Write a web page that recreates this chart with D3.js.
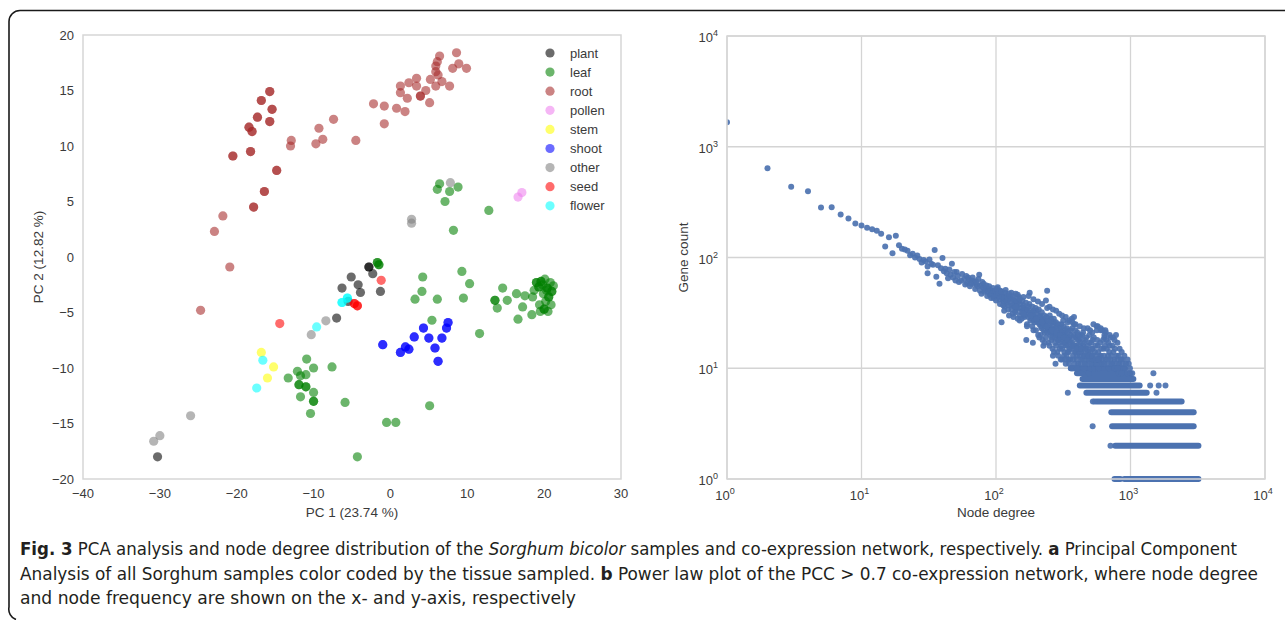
<!DOCTYPE html>
<html lang="en">
<head>
  <meta charset="UTF-8">
  <title>Fig. 3 PCA and node degree</title>
  <script src="https://d3js.org/d3.v7.min.js"></script>
  <style>
    body { margin: 0; background: #fff; }
    svg { display: block; }
    .tick-label { font-family: "Liberation Sans", Arial, sans-serif; font-size: 13px; fill: #3a3a3a; }
    .axis-title { font-family: "Liberation Sans", Arial, sans-serif; font-size: 13.5px; fill: #3a3a3a; }
    .legend-label { font-family: "Liberation Sans", Arial, sans-serif; font-size: 13px; fill: #3a3a3a; }
    .caption { font-family: "Liberation Sans Narrow", "DejaVu Sans Condensed", "Arial Narrow", "Liberation Sans", sans-serif; font-size: 17px; fill: #231f20; }
  </style>
</head>
<body>
<svg width="1285" height="620"></svg>
<script>
  // ---- panel a: PCA, points as [PC1, PC2, overlapping samples] ----
  const tissues = ["plant", "leaf", "root", "pollen", "stem", "shoot", "other", "seed", "flower"];
  const tissueColors = ["black", "green", "brown", "violet", "yellow", "blue", "grey", "red", "cyan"];

  const plantPts = [[-2.8, -0.9, 2], [-2.3, -1.5], [-5.1, -1.8], [-6.3, -2.8], [-4.2, -2.5],
    [-3.9, -3.2], [-1.3, -3.1], [-7.0, -5.5], [-5.5, -4.0], [-30.3, -18.0]];
  const leafPts = [[6.4, 6.6], [6.1, 6.1], [7.7, 5.9], [8.8, 6.3], [7.1, 5.0], [12.8, 4.2], [8.2, 2.4],
    [-1.7, -0.5, 2], [-1.5, -0.7, 2],
    [4.2, -1.8], [9.3, -1.3], [10.3, -2.4], [4.1, -3.1], [3.2, -3.8], [6.1, -3.8], [9.5, -3.7],
    [14.6, -2.8], [13.6, -3.9, 2], [13.9, -4.6], [15.2, -3.9], [16.4, -3.3], [17.5, -3.5], [17.2, -4.5],
    [16.6, -5.6], [18.4, -5.2],
    [19.0, -2.3, 2], [19.6, -2.2, 2], [20.1, -2.0], [20.8, -2.3], [21.2, -2.6], [19.3, -2.7, 2], [20.4, -2.8, 2],
    [21.0, -3.1, 2], [19.9, -3.3], [20.6, -3.6, 2], [20.2, -4.0], [19.4, -4.3], [20.0, -4.7, 2], [20.5, -4.9],
    [20.9, -4.3], [18.7, -3.0], [20.3, -3.0], [19.8, -2.5], [18.5, -3.6], [19.5, -4.9],
    [5.4, -5.7], [11.6, -6.9], [5.1, -13.4], [-0.5, -14.9], [0.7, -14.9], [-4.3, -18.0], [-5.9, -13.1],
    [-7.6, -9.9], [-10.9, -9.2], [-10.0, -10.0], [-12.1, -10.3], [-11.7, -10.7], [-11.0, -10.6],
    [-13.3, -10.9], [-11.9, -11.5, 2], [-11.0, -11.7, 2], [-10.0, -12.2], [-11.7, -12.6], [-10.0, -13.0, 2],
    [-10.4, -14.1]];
  const rootPts = [[8.6, 18.4], [6.4, 18.1], [6.1, 17.6], [8.9, 17.4], [9.9, 17.0], [8.1, 17.0], [5.9, 17.2],
    [5.9, 16.7], [6.2, 16.4], [6.7, 15.8], [5.2, 16.0], [5.9, 15.4], [7.7, 15.4], [3.4, 16.1], [2.4, 15.7],
    [3.4, 15.4], [1.3, 15.4], [1.3, 14.8], [4.6, 15.0], [2.2, 14.3], [3.9, 14.5, 2], [5.1, 13.9],
    [0.8, 13.4], [1.9, 13.1], [-2.2, 13.8], [-0.8, 13.6], [-0.8, 12.0], [-4.5, 10.5], [-7.4, 12.4],
    [-9.3, 11.6], [-8.8, 10.6], [-9.7, 10.2], [-12.9, 10.5], [-13.0, 10.0],
    [-15.7, 14.9, 2], [-16.8, 14.1, 2], [-15.4, 13.3, 2], [-17.3, 12.6, 2], [-15.7, 12.2, 2], [-18.4, 11.7, 2],
    [-18.0, 11.3, 2], [-18.2, 9.5, 2], [-20.5, 9.1, 2], [-14.8, 7.8, 2], [-16.4, 5.9, 2], [-17.8, 4.5, 2],
    [-21.8, 3.7], [-22.9, 2.3], [-20.9, -0.9], [-24.7, -4.8]];
  const pollenPts = [[16.6, 5.4], [17.1, 5.8]];
  const stemPts = [[-16.8, -8.6], [-15.2, -9.9], [-16.0, -10.9]];
  const shootPts = [[-1.0, -7.9, 2], [1.3, -8.6, 2], [1.95, -8.1, 2], [2.4, -8.3, 2], [3.1, -7.2, 2],
    [4.3, -6.4, 2], [5.0, -7.3, 2], [5.8, -8.2, 2], [6.2, -9.4, 2], [6.7, -7.3, 2], [7.3, -6.4, 2], [7.5, -5.9, 2]];
  const otherPts = [[7.8, 6.7], [2.75, 3.4], [2.75, 3.05], [-8.4, -5.75], [-10.3, -7.0], [-26.0, -14.3],
    [-30.0, -16.1], [-30.8, -16.6]];
  const seedPts = [[-1.2, -2.1], [-4.3, -4.4, 2], [-4.7, -4.2, 2], [-14.4, -6.0]];
  const flowerPts = [[-5.6, -3.7, 2], [-6.3, -4.1, 2], [-9.6, -6.3], [-16.6, -9.3], [-17.4, -11.8]];

  const pcXTicks = [-40, -30, -20, -10, 0, 10, 20, 30];
  const pcYTicks = [-20, -15, -10, -5, 0, 5, 10, 15, 20];

  // ---- panel b: power law, [degree] / [gene count] ----
  const degree = [1, 2, 3, 4, 5, 6, 7, 8, 9, 10, 11, 12, 13, 14, 15, 16, 17, 18, 19, 20, 21, 22, 23, 24, 25, 26, 27,
    28, 29, 30, 31, 31, 32, 33, 34, 35, 36, 37, 38, 39, 40, 41, 42, 43, 44, 45, 46, 47, 48, 49, 50, 51, 52, 53,
    55, 56, 58, 59, 61, 62, 64, 66, 68, 69, 70, 72, 73, 75, 76, 78, 80, 82, 84, 86, 88, 90, 92, 94, 96, 98,
    100, 103, 105, 107, 109, 110, 112, 114, 116, 118, 120, 123, 125, 128, 130, 133, 136, 138, 140, 143, 147,
    150, 152, 155, 158, 160, 163, 165, 168, 168, 170, 172, 175, 178, 180, 183, 186, 188, 190, 193, 195, 198,
    200, 203, 206, 210, 213, 215, 218, 220, 222, 225, 228, 230, 232, 235, 238, 240, 240, 243, 246, 250, 253,
    256, 258, 260, 263, 265, 268, 270, 273, 277, 277, 280, 283, 286, 290, 293, 296, 300, 303, 306, 310, 313,
    316, 320, 323, 326, 330, 333, 336, 340, 342, 342, 345, 350, 354, 358, 362, 366, 370, 374, 378, 380, 380,
    384, 388, 392, 394, 398, 402, 406, 410, 414, 418, 424, 424, 430, 436, 440, 446, 450, 455, 460, 466, 472,
    478, 480, 484, 490, 496, 502, 510, 516, 520, 523, 523, 530, 538, 545, 553, 560, 563, 563, 570, 580, 590,
    600, 602, 610, 620, 630, 640, 640, 650, 660, 666, 680, 690, 700, 715, 730, 745, 760, 775, 790, 810, 826,
    845, 870, 890, 914, 940, 970, 1000, 1030, 1480, 342, 523, 1560, 1400, 1620, 1820, 710, 525, 540,
    60, 63, 65, 67, 71, 74, 77, 79, 81, 83, 85, 87, 89, 91, 93, 95, 97, 99, 101, 104, 106, 108, 111, 113, 115,
    117, 119, 121, 124, 126, 129, 131, 134, 137, 139, 142, 145, 148, 151, 154, 157, 161, 164, 167, 171, 174,
    177, 181, 184, 187, 191, 194, 197, 201, 205, 208, 212, 216, 219, 223, 226, 229, 233, 237, 241, 244, 248,
    251, 255, 259, 262, 266, 269, 272, 275, 279, 282, 285, 288, 292, 295, 298, 302, 305, 308, 312, 315, 318,
    322, 325, 328, 332, 335, 338, 341, 344, 348, 352, 356, 360, 364, 368, 372, 376, 382, 386, 390, 396, 400,
    404, 408, 412, 416, 420, 426, 432, 438, 444, 448, 452, 458, 464, 470, 476, 482, 488, 494, 500, 506, 512,
    518, 526, 534, 542, 550, 558, 566, 575, 585, 595, 605, 615, 625, 635, 645, 655, 670, 685, 695, 710, 720,
    735, 750, 765, 780, 795, 800, 815, 830, 850, 860, 880, 900, 925, 950, 990,
    130, 145, 160, 175, 190, 205, 220, 235, 250, 265, 280, 295, 310, 330, 350, 370, 390, 420, 450, 500, 530,
    570, 600, 650, 700, 740, 760,
    150, 170, 190, 210, 230, 250, 270, 290, 310, 330, 350, 370, 400,
    140, 160, 180, 200, 220, 240, 260, 280, 300, 320, 340, 360, 380, 400, 430, 460, 490, 520, 550, 580, 610,
    640, 680, 720, 760, 800, 820, 860,
    102, 110, 118, 125, 135, 140, 150, 115, 125, 135, 145];
  const geneCount = [1660, 638, 436, 397, 283, 285, 245, 225, 203, 195, 186, 180, 174, 164, 126, 152, 109, 157,
    129, 120, 118, 115, 105, 108, 100, 104, 97, 90, 95, 92, 83, 72, 96, 88, 86, 117, 67, 85, 58, 80, 99, 75, 79,
    72, 65, 78, 70, 88, 66, 74, 62, 74, 68, 60, 62, 71, 64, 57, 59, 66, 55, 62, 58, 60, 52, 57, 55, 70, 50, 47,
    54, 49, 51, 45, 52, 46, 43, 50, 43, 47, 41, 54, 44, 38, 47, 26, 42, 40, 36, 45, 39, 34, 42, 43, 37, 31, 36,
    40, 33, 38, 40, 30, 35, 28, 33, 37, 29, 34, 33, 18, 25, 31, 36, 48, 27, 32, 24, 17, 30, 26, 29, 22, 33, 27,
    20, 25, 30, 20, 23, 28, 18, 16, 26, 21, 24, 19, 27, 50, 35, 22, 17, 25, 20, 28, 18, 23, 15, 13, 21, 26, 19,
    21, 11, 16, 24, 14, 20, 18, 17, 22, 12, 25, 15, 19, 27, 13, 17, 21, 11, 16, 23, 14, 18, 26, 12, 19, 15, 22,
    10, 28, 17, 13, 20, 25, 29, 11, 16, 14, 19, 12, 21, 10, 15, 18, 13, 11, 17, 14, 20, 12, 16, 10, 13, 18, 11,
    15, 12, 23, 14, 9, 17, 10, 13, 11, 21, 15, 18, 12, 10, 14, 11, 24, 22, 12, 16, 10, 13, 22, 13, 11, 22, 15,
    19, 20, 12, 18, 15, 13, 10, 16, 12, 11, 14, 12, 10, 13, 11, 11, 10, 12, 10, 10, 9, 11, 9, 9, 9, 6, 3, 6, 7,
    7, 7, 2, 5, 5,
    68, 63, 58, 66, 61, 64, 56, 60, 58, 53, 56, 49, 55, 50, 47, 53, 45, 50, 46, 48, 42, 50, 45, 37, 43,
    48, 41, 44, 37, 45, 40, 34, 42, 38, 32, 41, 35, 44, 38, 32, 41, 35, 30, 39, 34, 29,
    38, 32, 28, 36, 33, 27, 35, 31, 26, 34, 29, 24, 32, 27, 22, 30, 25, 29, 21, 27, 23,
    30, 21, 26, 19, 24, 28, 22, 17, 26, 20, 23, 18, 25, 21, 15, 19, 23, 16, 21, 18, 24,
    14, 20, 17, 22, 13, 19, 16, 21, 14, 18, 12, 20, 15, 23, 16, 12, 19, 14, 22, 16, 13,
    18, 11, 20, 14, 16, 19, 12, 15, 21, 13, 17, 11, 15, 19, 13, 16, 12, 20, 14, 11, 17,
    15, 12, 19, 13, 16, 11, 18, 14, 12, 17, 15, 12, 18, 13, 16, 21, 11, 17, 14, 19, 13,
    16, 11, 15, 20, 12, 17, 13, 15, 12, 14, 11, 13, 11, 12, 10,
    48, 46, 44, 45, 42, 40, 38, 41, 36, 34, 33, 31, 30, 29, 27, 26, 25, 24, 23, 22, 25,
    24, 23, 22, 20, 19, 18,
    27, 24, 22, 19, 17, 16, 14, 13, 12, 12, 11, 10, 10,
    36, 31, 30, 28, 26, 24, 22, 21, 20, 19, 18, 17, 16, 15, 15, 14, 13, 13, 12, 12, 11,
    11, 12, 11, 10, 10, 9, 9,
    52, 49, 51, 47, 45, 47, 42, 33, 30, 29, 28];
  // runs of neighbouring degrees sharing one small gene count
  const bandCount = [10, 9, 8, 7, 6, 5, 4, 3, 2, 1, 1];
  const bandFrom = [360, 400, 440, 420, 470, 560, 720, 730, 770, 760, 900];
  const bandTo = [900, 980, 1050, 1170, 1320, 2400, 2950, 2950, 3200, 840, 3200];
  const decadeTicks = [1, 10, 100, 1000, 10000];

  const svg = d3.select("svg");

  // outer figure frame (open on the right and bottom)
  svg.append("path")
    .attr("d", "M1285,10.5 H20 A11,11 0 0 0 9,21.5 V607 A11,11 0 0 0 16,619.5")
    .attr("fill", "none")
    .attr("stroke", "#1a1a1a")
    .attr("stroke-width", 1.6);

  // ---------- panel a ----------
  const x = d3.scaleLinear().domain([-40, 30]).range([83, 621]);
  const y = d3.scaleLinear().domain([-20, 20]).range([479, 35]);

  svg.append("rect")
    .attr("x", x(-40)).attr("y", y(20))
    .attr("width", x(30) - x(-40)).attr("height", y(-20) - y(20))
    .attr("fill", "none").attr("stroke", "#d6d6d6").attr("stroke-width", 1.5);

  const fmt = v => v < 0 ? "\u2212" + Math.abs(v) : String(v);

  svg.append("g").selectAll("text")
    .data(pcXTicks).enter().append("text")
    .attr("class", "tick-label")
    .attr("x", d => x(d)).attr("y", 498)
    .attr("text-anchor", "middle")
    .text(fmt);

  svg.append("g").selectAll("text")
    .data(pcYTicks).enter().append("text")
    .attr("class", "tick-label")
    .attr("x", 74).attr("y", d => y(d) + 4.5)
    .attr("text-anchor", "end")
    .text(fmt);

  svg.append("text").attr("class", "axis-title")
    .attr("x", (x(-40) + x(30)) / 2).attr("y", 517)
    .attr("text-anchor", "middle")
    .text("PC 1 (23.74 %)");

  svg.append("text").attr("class", "axis-title")
    .attr("transform", `translate(43,${(y(-20) + y(20)) / 2}) rotate(-90)`)
    .attr("text-anchor", "middle")
    .text("PC 2 (12.82 %)");

  const groups = [plantPts, leafPts, rootPts, pollenPts, stemPts, shootPts, otherPts, seedPts, flowerPts];
  groups.forEach((pts, i) => {
    // one circle per sample; overlapping samples darken the spot
    const samples = [];
    pts.forEach(p => { for (let k = 0; k < (p[2] || 1); k++) samples.push(p); });
    svg.append("g").selectAll("circle")
      .data(samples).enter().append("circle")
      .attr("cx", d => x(d[0]))
      .attr("cy", d => y(d[1]))
      .attr("r", 4.6)
      .attr("fill", tissueColors[i])
      .attr("fill-opacity", 0.58);
  });

  const legend = svg.append("g").attr("transform", "translate(550,53)");
  tissues.forEach((t, i) => {
    legend.append("circle")
      .attr("cx", 0).attr("cy", i * 19.1)
      .attr("r", 4.6)
      .attr("fill", tissueColors[i]).attr("fill-opacity", 0.58);
    legend.append("text").attr("class", "legend-label")
      .attr("x", 20).attr("y", i * 19.1 + 4.5)
      .text(t);
  });

  // ---------- panel b ----------
  const xd = d3.scaleLog().domain([1, 1e4]).range([727, 1265]);
  const yd = d3.scaleLog().domain([1, 1e4]).range([479, 36]);

  const grid = svg.append("g").attr("stroke", "#d4d4d4").attr("stroke-width", 1.3);
  grid.selectAll(".gx").data(decadeTicks).enter().append("line")
    .attr("x1", d => xd(d)).attr("x2", d => xd(d))
    .attr("y1", yd(1)).attr("y2", yd(1e4));
  grid.selectAll(".gy").data(decadeTicks).enter().append("line")
    .attr("x1", xd(1)).attr("x2", xd(1e4))
    .attr("y1", d => yd(d)).attr("y2", d => yd(d));

  const expLabel = (sel) => {
    sel.append("tspan").text("10");
    sel.append("tspan").attr("dy", -6).style("font-size", "9px").text(d => Math.round(Math.log10(d)));
  };

  svg.append("g").selectAll("text")
    .data(decadeTicks).enter().append("text")
    .attr("class", "tick-label")
    .attr("x", d => xd(d) - 2).attr("y", 500)
    .attr("text-anchor", "middle")
    .call(expLabel);

  svg.append("g").selectAll("text")
    .data(decadeTicks).enter().append("text")
    .attr("class", "tick-label")
    .attr("x", 718).attr("y", d => yd(d) + 6)
    .attr("text-anchor", "end")
    .call(expLabel);

  svg.append("text").attr("class", "axis-title")
    .attr("x", (xd(1) + xd(1e4)) / 2).attr("y", 517)
    .attr("text-anchor", "middle")
    .text("Node degree");

  svg.append("text").attr("class", "axis-title")
    .attr("transform", `translate(688,${(yd(1) + yd(1e4)) / 2}) rotate(-90)`)
    .attr("text-anchor", "middle")
    .text("Gene count");

  const dotColor = "#4c72b0";
  svg.append("clipPath").attr("id", "clipb").append("rect")
    .attr("x", xd(1)).attr("y", yd(1e4) - 5)
    .attr("width", xd(1e4) - xd(1)).attr("height", yd(1) - yd(1e4) + 10);

  const pb = svg.append("g").attr("clip-path", "url(#clipb)");
  pb.selectAll("line")
    .data(bandCount.map((c, i) => ({ c, a: bandFrom[i], b: bandTo[i] })))
    .enter().append("line")
    .attr("x1", d => xd(d.a)).attr("x2", d => xd(d.b))
    .attr("y1", d => yd(d.c)).attr("y2", d => yd(d.c))
    .attr("stroke", dotColor)
    .attr("stroke-width", 6)
    .attr("stroke-linecap", "round");

  pb.selectAll("circle")
    .data(degree.map((d, i) => [d, geneCount[i]]))
    .enter().append("circle")
    .attr("cx", d => xd(d[0]))
    .attr("cy", d => yd(d[1]))
    .attr("r", 3)
    .attr("fill", dotColor)
    .attr("fill-opacity", 0.92);

  svg.append("rect")
    .attr("x", xd(1)).attr("y", yd(1e4))
    .attr("width", xd(1e4) - xd(1)).attr("height", yd(1) - yd(1e4))
    .attr("fill", "none").attr("stroke", "#d6d6d6").attr("stroke-width", 1.5);

  // ---------- caption ----------
  const captionLines = [
    [["Fig. 3", "b"], [" PCA analysis and node degree distribution of the ", ""], ["Sorghum bicolor", "i"],
      [" samples and co-expression network, respectively. ", ""], ["a", "b"], [" Principal Component", ""]],
    [["Analysis of all Sorghum samples color coded by the tissue sampled. ", ""], ["b", "b"],
      [" Power law plot of the PCC > 0.7 co-expression network, where node degree", ""]],
    [["and node frequency are shown on the x- and y-axis, respectively", ""]]
  ];
  const captionWidths = [1217, 1238, 556];

  captionLines.forEach((parts, i) => {
    const t = svg.append("text").attr("class", "caption")
      .attr("x", 20).attr("y", 555 + i * 24.5)
      .attr("textLength", captionWidths[i])
      .attr("lengthAdjust", "spacingAndGlyphs");
    parts.forEach(p => {
      t.append("tspan")
        .attr("font-weight", p[1] === "b" ? "bold" : null)
        .attr("font-style", p[1] === "i" ? "italic" : null)
        .text(p[0]);
    });
  });
</script>
</body>
</html>
